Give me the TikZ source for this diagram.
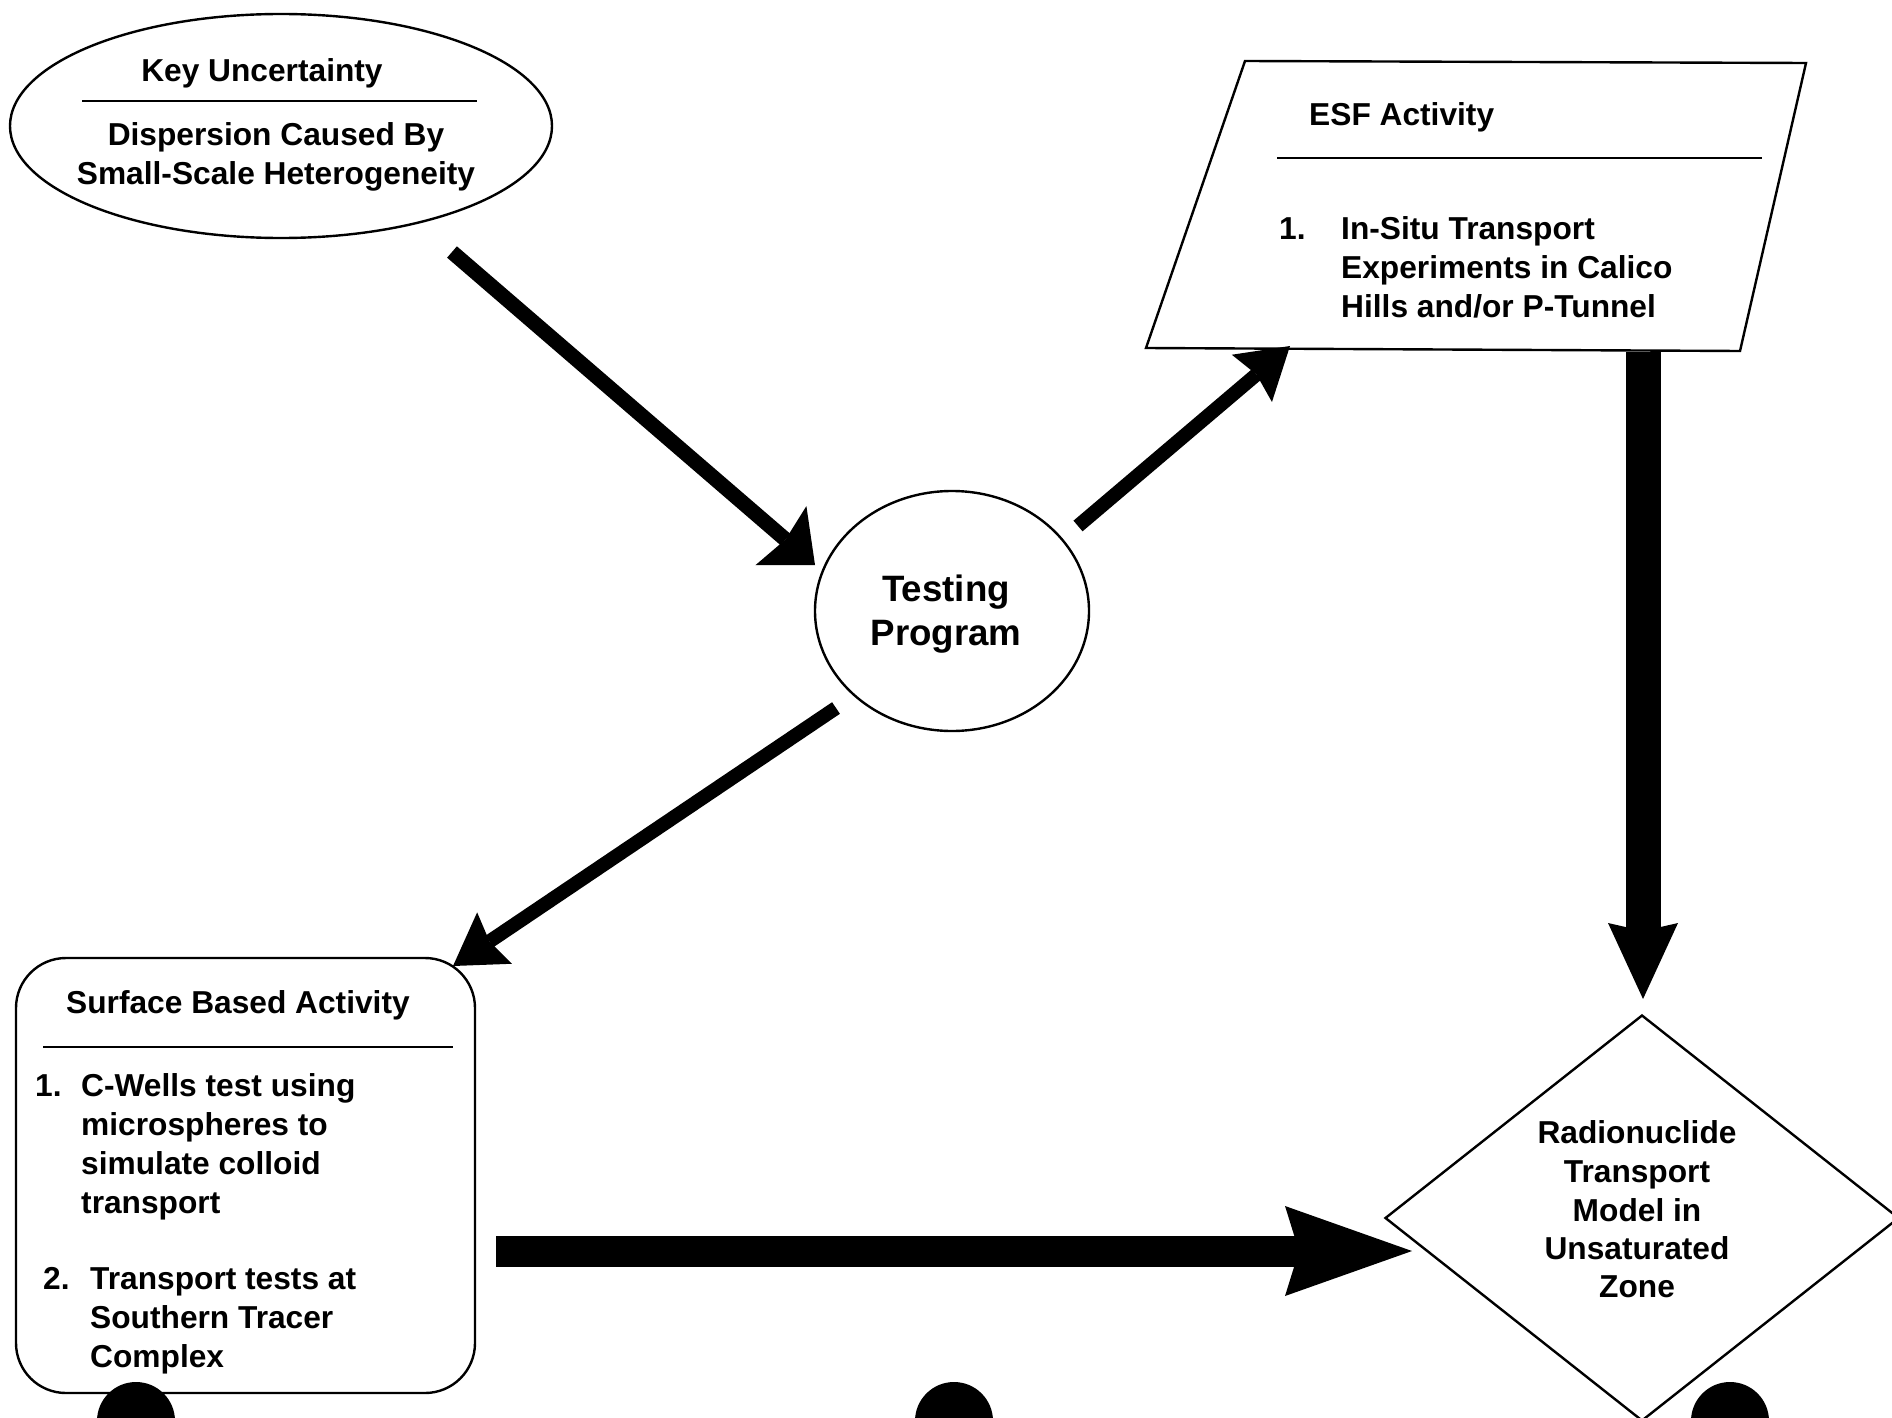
\documentclass[tikz,border=0pt]{standalone}
\usepackage{fontspec}
\setmainfont{Liberation Sans}
\usetikzlibrary{shapes.geometric,arrows.meta}
\begin{document}
\begin{tikzpicture}[x=1pt,y=-1pt,
  outline/.style={draw=black, line width=2.4pt, fill=white},
  body/.style={font=\fontsize{31.7}{38}\selectfont\bfseries, inner sep=0pt},
  lbl/.style={body, anchor=base west},
  clbl/.style={body, anchor=base},
  rule/.style={line width=2.4pt},
  bigarrow/.style args={#1/#2/#3/#4}{line width=#1,
    -{Stealth[length=#2, width=#3, inset=#4, line width=0pt]}},
  blob/.style={fill=black}
]
% page
\fill[white] (0,0) rectangle (1892,1418);
\useasboundingbox (0,0) rectangle (1892,1418);
\clip (0,0) rectangle (1892,1418);

% key uncertainty
\node[outline, ellipse, minimum width=542pt, minimum height=224pt, inner sep=0pt] (unc) at (281,126) {};
\node[clbl] (k1) at (262,82) {Key Uncertainty};
\draw[rule] (82,101) -- (477,101);
\node[clbl] (k2) at (276,146) {Dispersion Caused By};
\node[clbl] (k3) at (276,184) {Small-Scale Heterogeneity};

% testing program
\node[outline, ellipse, minimum width=274pt, minimum height=240pt, inner sep=0pt] (test) at (952,611) {};
\node[font=\fontsize{36.7}{44}\selectfont\bfseries, align=center, inner sep=0pt] (testtxt) at (946,614) {Testing\\Program};

% ESF activity
\coordinate (e1) at (1245,61);
\coordinate (e2) at (1806,63);
\coordinate (e3) at (1740,351);
\coordinate (e4) at (1146,348);
\draw[outline] (e1) -- (e2) -- (e3) -- (e4) -- cycle;
\node[lbl] (esft) at (1309,126) {ESF Activity};
\draw[rule] (1277,158) -- (1762,158);
\node[lbl] (esfn) at (1279,239) {1.};
\node[lbl] (esf1) at (1341,239) {In-Situ Transport};
\node[lbl] (esf2) at (1341,278) {Experiments in Calico};
\node[lbl] (esf3) at (1341,317) {Hills and/or P-Tunnel};

% surface based activity
\node[outline, rounded corners=50pt, minimum width=459pt, minimum height=435pt, inner sep=0pt] (surf) at (245.5,1175.5) {};
\node[lbl] (sft) at (66,1013) {Surface Based Activity};
\draw[rule] (43,1047) -- (453,1047);
\node[lbl] (sn1) at (35,1096) {1.};
\node[lbl] (s11) at (81,1096) {C-Wells test using};
\node[lbl] (s12) at (81,1135) {microspheres to};
\node[lbl] (s13) at (81,1174) {simulate colloid};
\node[lbl] (s14) at (81,1213) {transport};
\node[lbl] (sn2) at (43,1289) {2.};
\node[lbl] (s21) at (90,1289) {Transport tests at};
\node[lbl] (s22) at (90,1328) {Southern Tracer};
\node[lbl] (s23) at (90,1367) {Complex};

% transport model
\node[outline, diamond, minimum width=514pt, minimum height=406pt, inner sep=0pt] (model) at (1642,1218) {};
\node[clbl] (m1) at (1637,1143) {Radionuclide};
\node[clbl] (m2) at (1637,1182) {Transport};
\node[clbl] (m3) at (1637,1221) {Model in};
\node[clbl] (m4) at (1637,1259) {Unsaturated};
\node[clbl] (m5) at (1637,1297) {Zone};

% connector ends
\coordinate (a1s) at (452,252);
\coordinate (a1e) at (815,565);
\coordinate (a2s) at (1078,526);
\coordinate (a2e) at (1290,346);
\coordinate (a3s) at (836,708);
\coordinate (a3e) at (453,966);
\coordinate (a4s) at (1643,352);
\coordinate (a4e) at (1643,999);
\coordinate (a5s) at (496,1251);
\coordinate (a5e) at (1412,1251);

% connectors
\draw[bigarrow=15pt/45pt/78pt/6pt] (a1s) -- (a1e);
\draw[bigarrow=14pt/50pt/62pt/6pt] (a2s) -- (a2e);
\draw[bigarrow=14pt/50pt/62pt/6pt] (a3s) -- (a3e);
\draw[bigarrow=35pt/76pt/70pt/8pt] (a4s) -- (a4e);
\draw[bigarrow=31pt/127pt/90pt/14pt] (a5s) -- (a5e);

% page-edge markers
\fill[blob] (136,1421) circle[radius=39pt];
\fill[blob] (954,1421) circle[radius=39pt];
\fill[blob] (1730,1421) circle[radius=39pt];
\end{tikzpicture}
\end{document}
